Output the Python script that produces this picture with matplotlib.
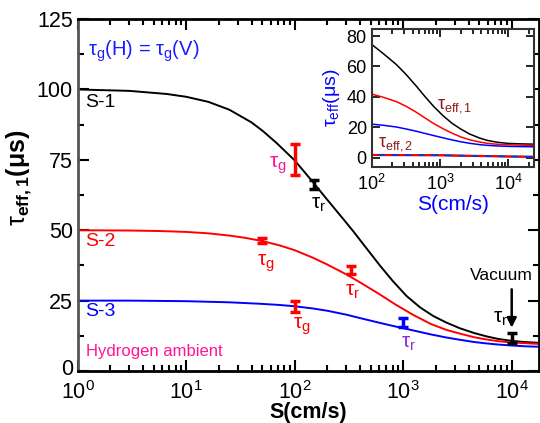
import matplotlib
matplotlib.use("Agg")
import matplotlib.pyplot as plt
from matplotlib.transforms import ScaledTranslation

plt.rcParams['font.family'] = ['Liberation Sans', 'DejaVu Sans']
plt.rcParams['mathtext.fontset'] = 'custom'
plt.rcParams['mathtext.rm'] = 'Liberation Sans'
plt.rcParams['mathtext.it'] = 'Liberation Sans:italic'
plt.rcParams['mathtext.bf'] = 'Liberation Sans:bold'

# main curves (S in cm/s, tau_eff,1 in us)
s1_S = [1, 3, 6.6, 10, 16, 25, 40, 51, 68, 100, 148, 196, 280, 347, 450, 609, 800, 1070, 1430, 1900, 2500, 3320, 4500, 5860, 7500, 9600, 13000, 18000]
s1_tau = [100, 99.5, 98.4, 97.4, 95.6, 92.8, 88.3, 85.2, 81.0, 74.8, 67.0, 61.2, 54.0, 49.6, 44.0, 37.5, 32.0, 26.7, 22.6, 19.5, 17.2, 15.2, 13.5, 12.3, 11.4, 10.8, 10.3, 10.0]

s2_S = [1, 3, 6, 10, 16, 25, 35, 51, 73, 100, 148, 200, 300, 420, 609, 850, 1240, 1800, 2500, 3320, 4500, 5860, 7500, 9600, 13000, 18000]
s2_tau = [50, 49.9, 49.7, 49.4, 48.9, 48.1, 47.3, 46.1, 44.6, 42.9, 40.2, 37.8, 34.3, 31.0, 27.2, 23.6, 19.9, 16.7, 14.6, 13.3, 12.0, 11.2, 10.6, 10.2, 9.9, 9.6]

s3_S = [1, 3, 10, 25, 47, 70, 100, 148, 200, 300, 420, 609, 850, 1240, 1800, 2500, 3320, 4500, 5860, 7500, 9600, 13000, 18000]
s3_tau = [25, 25, 24.8, 24.4, 23.9, 23.5, 23.0, 22.2, 21.4, 20.0, 18.6, 17.1, 15.8, 14.4, 13.0, 11.9, 11.1, 10.3, 9.8, 9.4, 9.1, 8.8, 8.6]

# measured points with error bars
red_S = [50, 100, 330, 100]
red_tau = [46.3, 75.0, 35.8, 23.0]
red_err = [0.8, 5.5, 1.4, 2.0]
black_S = [150, 10000]
black_tau = [66.2, 11.6]
black_err = [1.6, 1.8]
blue_S = [1000]
blue_tau = [17.2]
blue_err = [1.6]

# inset curves
in_S = [100, 150, 230, 320, 450, 600, 800, 1100, 1500, 2000, 2700, 3800, 5000, 7000, 10000, 15000, 24000]
in_black = [74.5, 68.2, 61.2, 54.6, 47.0, 40.2, 33.8, 27.6, 22.5, 18.8, 15.5, 12.8, 11.2, 10.0, 9.3, 9.0, 8.8]
in_red = [41.8, 39.6, 36.8, 33.7, 29.8, 26.1, 22.5, 19.0, 16.0, 13.6, 11.7, 10.2, 9.3, 8.7, 8.4, 8.2, 8.0]
in_blue = [22, 21.2, 20.1, 18.8, 17.3, 15.9, 14.5, 13.0, 11.6, 10.4, 9.4, 8.5, 8.0, 7.6, 7.35, 7.2, 7.1]
in2_S = [100, 1000, 3000, 10000, 24000]
in2_black = [1.7, 1.5, 1.1, 0.7, 0.5]
in2_red = [1.7, 1.5, 1.1, 0.7, 0.5]
in2_blue = [1.7, 1.5, 1.1, 0.7, 0.5]

fig = plt.figure(figsize=(5.4, 4.23), dpi=100)
ax = fig.add_axes([0.1439, 0.1229, 0.855, 0.832])

ax.plot(s1_S, s1_tau, color='black', lw=1.4)
ax.plot(s2_S, s2_tau, color='red', lw=1.4)
ax.plot(s3_S, s3_tau, color='blue', lw=1.4)

eb = dict(fmt='none', capsize=3.5, capthick=2.5, elinewidth=2.5)
ax.errorbar(red_S, red_tau, yerr=red_err, ecolor='red', **eb)
ax.errorbar(black_S, black_tau, yerr=black_err, ecolor='black', **eb)
ax.errorbar(blue_S, blue_tau, yerr=blue_err, ecolor='blue', **eb)

ax.set_xscale('log')
ax.set_xlim(1, 1.8e4)
ax.set_ylim(0, 125)
ax.set_yticks([0, 25, 50, 75, 100, 125])
ax.set_yticks([12.5, 37.5, 62.5, 87.5, 112.5], minor=True)
ax.tick_params(which='both', direction='in', top=True, right=True, labelsize=15.5, width=1.5)
ax.tick_params(which='major', length=8)
ax.tick_params(which='minor', length=4.5)
ax.tick_params(axis='x', pad=7)
for side in ['bottom', 'top', 'right']:
    ax.spines[side].set_linewidth(2)
ax.spines['left'].set_linewidth(2)
ax.spines['left'].set_color('#555555')

# lift the "0" label a little so it clears the 10^0 label
lbl0 = ax.yaxis.get_major_ticks()[0].label1
lbl0.set_transform(lbl0.get_transform() + ScaledTranslation(0, 3 / 72, fig.dpi_scale_trans))

ax.set_xlabel('S(cm/s)', fontsize=15.5, fontweight='bold', labelpad=-1)
ax.set_ylabel(r'$\mathrm{\tau}_{\mathbf{eff,1}}\mathbf{(\mu s)}$', fontsize=18)
ax.yaxis.set_label_coords(-0.095, 0.55)

tg = r'$\mathrm{\tau_g}$'
tr = r'$\mathrm{\tau_r}$'
ax.text(1.24, 113.6, tg + '(H) = ' + tg + '(V)', color='#1a1aff', fontsize=14.5, va='center')
ax.text(1.17, 95.5, 'S-1', color='black', fontsize=14, va='center')
ax.text(1.17, 46, 'S-2', color='red', fontsize=14, va='center')
ax.text(1.17, 21.3, 'S-3', color='blue', fontsize=14, va='center')
ax.text(1.2, 6.9, 'Hydrogen ambient', color='#ff1493', fontsize=12, va='center')

ax.text(70.5, 73.2, tg, color='#ff1493', fontsize=15, ha='center', va='center')
ax.text(165, 59.3, tr, color='black', fontsize=15, ha='center', va='center')
ax.text(54.6, 38.4, tg, color='red', fontsize=15, ha='center', va='center')
ax.text(339, 28.4, tr, color='red', fontsize=15, ha='center', va='center')
ax.text(117, 16, tg, color='red', fontsize=15, ha='center', va='center')
ax.text(1125, 9.9, tr, color='#8a2be2', fontsize=15, ha='center', va='center')
ax.text(7900, 18.8, tr, color='black', fontsize=15, ha='center', va='center')
ax.text(8100, 34, 'Vacuum', color='black', fontsize=12.5, ha='center', va='center')
ax.annotate('', xy=(10000, 14.4), xytext=(10000, 30),
            arrowprops=dict(arrowstyle='-|>', color='black', lw=1.8, mutation_scale=14))

# inset
ins = fig.add_axes([0.6883, 0.606, 0.3015, 0.3246])
ins.plot(in_S, in_black, color='black', lw=1.1)
ins.plot(in_S, in_red, color='red', lw=1.1)
ins.plot(in_S, in_blue, color='blue', lw=1.1)
ins.plot(in2_S, in2_black, color='black', lw=1.1)
ins.plot(in2_S, in2_red, color='red', lw=1.6, ls=(0, (3, 3)))
ins.plot(in2_S, in2_blue, color='#2030c0', lw=1.6, ls=(3, (3, 3)))
ins.set_xscale('log')
ins.set_xlim(100, 2.4e4)
ins.set_ylim(-6, 84.4)
ins.set_yticks([0, 20, 40, 60, 80])
ins.tick_params(which='both', direction='in', top=True, right=True, labelsize=13, width=1.2)
ins.tick_params(which='major', length=6)
ins.tick_params(which='minor', length=3.5)
ins.tick_params(axis='x', pad=5)
for side in ins.spines:
    ins.spines[side].set_linewidth(1.5)
    ins.spines[side].set_color('#333333')
ins.set_xlabel('S(cm/s)', color='blue', fontsize=15, labelpad=1)
ins.set_ylabel(r'$\mathrm{\tau_{eff}}$(μs)', color='blue', fontsize=14, labelpad=3)
ins.text(1660, 33.9, r'$\mathrm{\tau_{eff,1}}$', color='#8b1a1a', fontsize=13, ha='center', va='center')
ins.text(227, 8.9, r'$\mathrm{\tau_{eff,2}}$', color='#8b1a1a', fontsize=13, ha='center', va='center')

fig.savefig('out.png', dpi=100)
